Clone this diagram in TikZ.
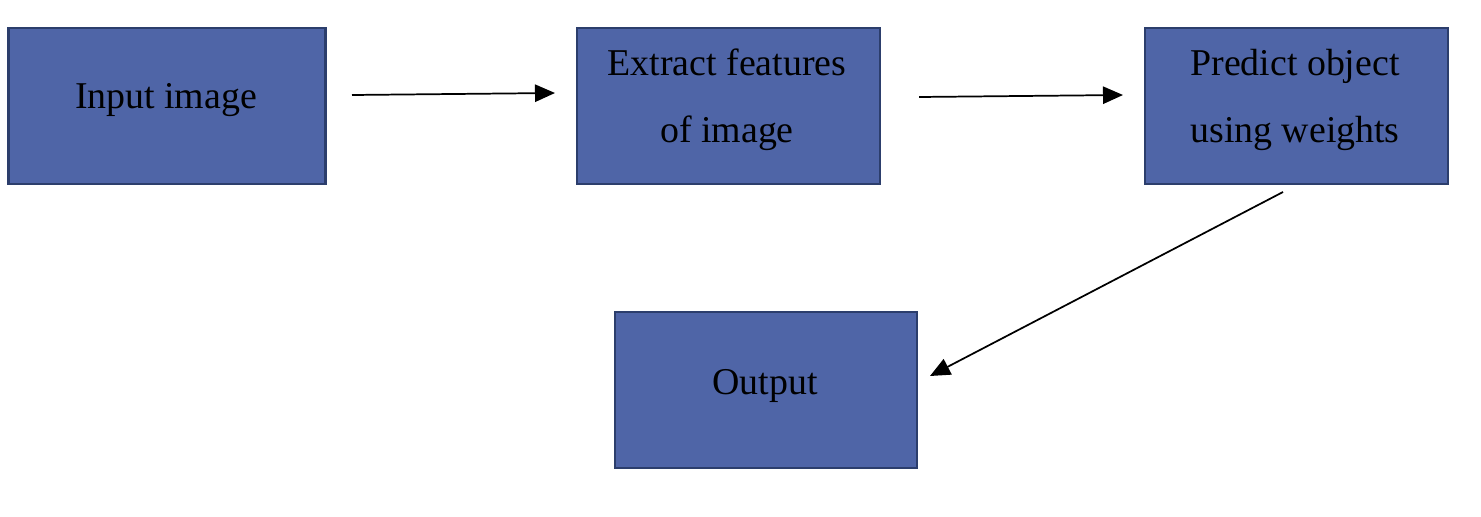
\documentclass[tikz,border=0pt]{standalone}
\usepackage{fontspec}
\setmainfont{Liberation Serif}
\usetikzlibrary{arrows.meta}
\definecolor{boxfill}{RGB}{79,101,167}
\definecolor{boxline}{RGB}{44,62,108}
\begin{document}
\begin{tikzpicture}[x=0.75pt,y=-0.75pt,
  blockbox/.style={draw=boxline,fill=boxfill,line width=2.2pt,inner sep=0pt},
  lbl/.style={font=\fontsize{28.4}{50}\selectfont,align=center,text=black,inner sep=0pt},
  conn/.style={line width=1.3pt,-{Triangle[length=15pt,width=13pt]}}]
\useasboundingbox (0,0) rectangle (1481,517);
% boxes
\node[blockbox,minimum width=317*0.75pt,minimum height=156*0.75pt] (in) at (167,106) {};
\node[blockbox,minimum width=303*0.75pt,minimum height=156*0.75pt] (ex) at (728.5,106) {};
\node[blockbox,minimum width=303*0.75pt,minimum height=156*0.75pt] (pr) at (1296.5,106) {};
\node[blockbox,minimum width=302*0.75pt,minimum height=156*0.75pt] (out) at (766,390) {};
% labels
\node[lbl] (inl) at (166,100) {Input image};
\node[lbl] (exl) at (727,100) {Extract features\\of image};
\node[lbl] (prl) at (1295,100) {Predict object\\using weights};
\node[lbl] (outl) at (765,386) {Output};
% connector ends
\coordinate (a1) at (352,95);
\coordinate (a2) at (555,93);
\coordinate (b1) at (919,97);
\coordinate (b2) at (1123,95);
\coordinate (c1) at (1283,192);
\coordinate (c2) at (930,376);
\draw[conn] (a1) -- (a2);
\draw[conn] (b1) -- (b2);
\draw[conn] (c1) -- (c2);
\end{tikzpicture}
\end{document}
